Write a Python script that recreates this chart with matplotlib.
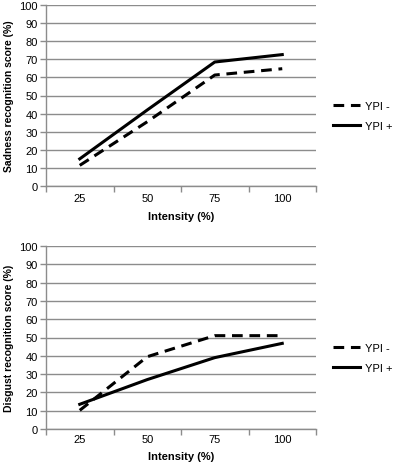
import matplotlib
matplotlib.use("Agg")
import matplotlib.pyplot as plt

plt.rcParams['font.family'] = ['Liberation Sans', 'DejaVu Sans']

intensity = ["25", "50", "75", "100"]
sad_ypi_minus = [11.4, 35.5, 61.3, 64.8]
sad_ypi_plus = [15.0, 42.0, 68.5, 72.6]
dis_ypi_minus = [10.2, 39.5, 51.0, 51.0]
dis_ypi_plus = [13.5, 27.0, 39.0, 46.8]
series_labels = ["YPI -", "YPI +"]
yticks = list(range(0, 101, 10))

W, H = 395, 464
fig = plt.figure(figsize=(W / 100, H / 100), dpi=100)

grid_c = "#8c8c8c"

def make_ax(bottom_px, top_px, minus, plus, ylabel, leg_y, xpad, lpad):
    ax = fig.add_axes([46 / W, 1 - bottom_px / H, 270 / W, (bottom_px - top_px) / H])
    xs = list(range(len(intensity)))
    l1, = ax.plot(xs, minus, color="black", lw=2.2, dashes=(3.5, 2.2),
                  dash_capstyle="butt", label=series_labels[0])
    l2, = ax.plot(xs, plus, color="black", lw=2.2, label=series_labels[1])
    ax.set_xlim(-0.5, len(intensity) - 0.5)
    ax.set_ylim(0, 100)
    ax.set_yticks(yticks)
    ax.set_xticks(xs)
    ax.set_xticklabels(intensity)
    ax.set_xticks([i - 0.5 for i in range(len(intensity) + 1)], minor=True)
    ax.tick_params(axis="x", which="major", length=0, labelsize=8, pad=xpad)
    ax.tick_params(axis="x", which="minor", length=4, color=grid_c, width=1)
    ax.tick_params(axis="y", length=4, color=grid_c, width=1, labelsize=8, pad=2)
    ax.grid(axis="y", color=grid_c, lw=1)
    ax.set_axisbelow(True)
    for s in ["top", "right"]:
        ax.spines[s].set_visible(False)
    for s in ["left", "bottom"]:
        ax.spines[s].set_color(grid_c)
        ax.spines[s].set_linewidth(1)
    ax.set_xlabel("Intensity (%)", fontsize=8, fontweight="bold", labelpad=lpad)
    ax.set_ylabel(ylabel, fontsize=7.5, fontweight="bold", labelpad=4)
    fig.legend(handles=[l1, l2], loc="center left", bbox_to_anchor=(333 / W, 1 - leg_y / H),
               frameon=False, fontsize=8, handlelength=2.4, handletextpad=0.5,
               labelspacing=0.9, borderpad=0, borderaxespad=0)
    return ax

make_ax(187, 6, sad_ypi_minus, sad_ypi_plus, "Sadness recognition score (%)", 116.5, 5, 5.5)
make_ax(430, 247, dis_ypi_minus, dis_ypi_plus, "Disgust recognition score (%)", 358.5, 3.5, 5.5)

fig.savefig("out.png", dpi=100)
